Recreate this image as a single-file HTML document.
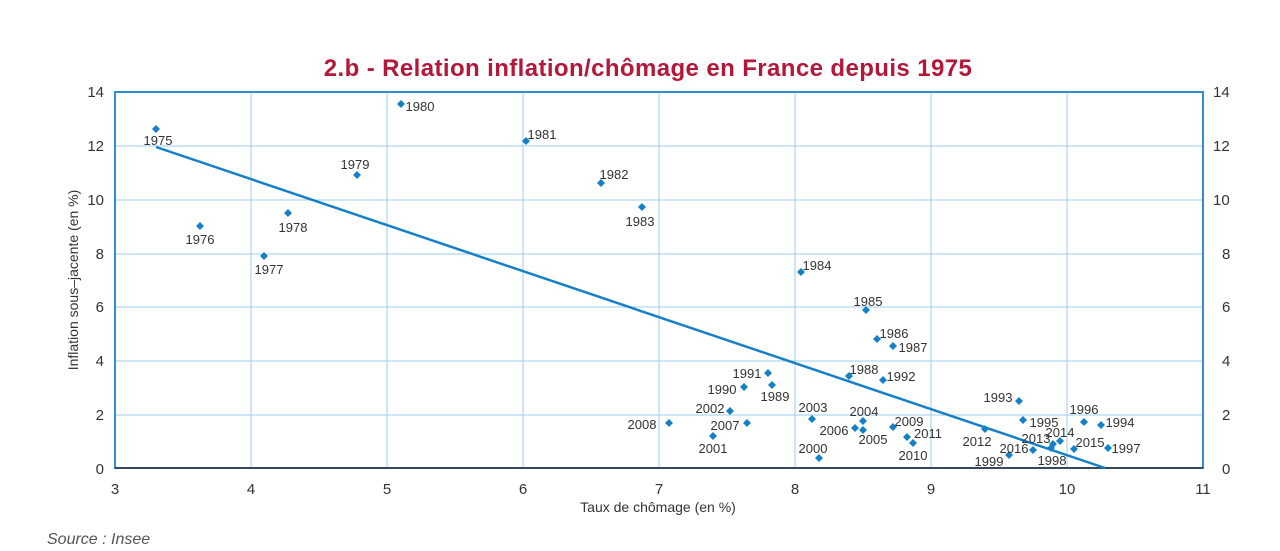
<!DOCTYPE html>
<html><head><meta charset="utf-8"><style>
html,body{margin:0;padding:0;background:#fff;}
svg{display:block;font-family:"Liberation Sans",sans-serif;}
</style></head><body>
<svg width="1280" height="551" viewBox="0 0 1280 551" xmlns="http://www.w3.org/2000/svg">
<text x="648" y="76" text-anchor="middle" font-size="24" letter-spacing="0.4" font-weight="bold" fill="#b3183a">2.b - Relation inflation/chômage en France depuis 1975</text>
<g stroke="#9fcdee" stroke-width="1">
<line x1="251" y1="92" x2="251" y2="468"/><line x1="387" y1="92" x2="387" y2="468"/>
<line x1="523" y1="92" x2="523" y2="468"/><line x1="659" y1="92" x2="659" y2="468"/>
<line x1="795" y1="92" x2="795" y2="468"/><line x1="931" y1="92" x2="931" y2="468"/>
<line x1="1067" y1="92" x2="1067" y2="468"/>
<line x1="115" y1="146" x2="1203" y2="146"/><line x1="115" y1="200" x2="1203" y2="200"/>
<line x1="115" y1="254" x2="1203" y2="254"/><line x1="115" y1="307" x2="1203" y2="307"/>
<line x1="115" y1="361" x2="1203" y2="361"/><line x1="115" y1="415" x2="1203" y2="415"/>
</g>
<rect x="115" y="92" width="1088" height="376" fill="none" stroke="#2d8fd0" stroke-width="2"/>
<line x1="115" y1="468" x2="1203" y2="468" stroke="#34495e" stroke-width="2"/>
<line x1="156" y1="147" x2="1105" y2="468" stroke="#1580c8" stroke-width="2.5"/>
<g font-size="15" fill="#333">
<g text-anchor="end">
<text x="104" y="97">14</text><text x="104" y="151">12</text><text x="104" y="205">10</text>
<text x="104" y="259">8</text><text x="104" y="312">6</text><text x="104" y="366">4</text>
<text x="104" y="420">2</text><text x="104" y="474">0</text></g>
<g text-anchor="start">
<text x="1213" y="97">14</text><text x="1213" y="151">12</text><text x="1213" y="205">10</text>
<text x="1222" y="259">8</text><text x="1222" y="312">6</text><text x="1222" y="366">4</text>
<text x="1222" y="420">2</text><text x="1222" y="474">0</text></g>
<g text-anchor="middle">
<text x="115" y="494">3</text><text x="251" y="494">4</text><text x="387" y="494">5</text>
<text x="523" y="494">6</text><text x="659" y="494">7</text><text x="795" y="494">8</text>
<text x="931" y="494">9</text><text x="1067" y="494">10</text><text x="1203" y="494">11</text></g>
<text x="658" y="512" text-anchor="middle" font-size="14">Taux de chômage (en %)</text>
<text transform="translate(78,280) rotate(-90)" text-anchor="middle" font-size="14">Inflation sous–jacente (en %)</text>
</g>
<text x="47" y="544" font-size="16" font-style="italic" fill="#555">Source : Insee</text>
<g fill="#1580c8">
<path d="M0,-4L4,0L0,4L-4,0Z" transform="translate(156,129)"/>
<path d="M0,-4L4,0L0,4L-4,0Z" transform="translate(200,226)"/>
<path d="M0,-4L4,0L0,4L-4,0Z" transform="translate(264,256)"/>
<path d="M0,-4L4,0L0,4L-4,0Z" transform="translate(288,213)"/>
<path d="M0,-4L4,0L0,4L-4,0Z" transform="translate(357,175)"/>
<path d="M0,-4L4,0L0,4L-4,0Z" transform="translate(401,104)"/>
<path d="M0,-4L4,0L0,4L-4,0Z" transform="translate(526,141)"/>
<path d="M0,-4L4,0L0,4L-4,0Z" transform="translate(601,183)"/>
<path d="M0,-4L4,0L0,4L-4,0Z" transform="translate(642,207)"/>
<path d="M0,-4L4,0L0,4L-4,0Z" transform="translate(801,272)"/>
<path d="M0,-4L4,0L0,4L-4,0Z" transform="translate(866,310)"/>
<path d="M0,-4L4,0L0,4L-4,0Z" transform="translate(877,339)"/>
<path d="M0,-4L4,0L0,4L-4,0Z" transform="translate(893,346)"/>
<path d="M0,-4L4,0L0,4L-4,0Z" transform="translate(849,376)"/>
<path d="M0,-4L4,0L0,4L-4,0Z" transform="translate(772,385)"/>
<path d="M0,-4L4,0L0,4L-4,0Z" transform="translate(744,387)"/>
<path d="M0,-4L4,0L0,4L-4,0Z" transform="translate(768,373)"/>
<path d="M0,-4L4,0L0,4L-4,0Z" transform="translate(883,380)"/>
<path d="M0,-4L4,0L0,4L-4,0Z" transform="translate(1019,401)"/>
<path d="M0,-4L4,0L0,4L-4,0Z" transform="translate(1101,425)"/>
<path d="M0,-4L4,0L0,4L-4,0Z" transform="translate(1023,420)"/>
<path d="M0,-4L4,0L0,4L-4,0Z" transform="translate(1084,422)"/>
<path d="M0,-4L4,0L0,4L-4,0Z" transform="translate(1108,448)"/>
<path d="M0,-4L4,0L0,4L-4,0Z" transform="translate(1051,448)"/>
<path d="M0,-4L4,0L0,4L-4,0Z" transform="translate(1009,455)"/>
<path d="M0,-4L4,0L0,4L-4,0Z" transform="translate(819,458)"/>
<path d="M0,-4L4,0L0,4L-4,0Z" transform="translate(713,436)"/>
<path d="M0,-4L4,0L0,4L-4,0Z" transform="translate(730,411)"/>
<path d="M0,-4L4,0L0,4L-4,0Z" transform="translate(812,419)"/>
<path d="M0,-4L4,0L0,4L-4,0Z" transform="translate(863,421)"/>
<path d="M0,-4L4,0L0,4L-4,0Z" transform="translate(863,430)"/>
<path d="M0,-4L4,0L0,4L-4,0Z" transform="translate(855,428)"/>
<path d="M0,-4L4,0L0,4L-4,0Z" transform="translate(747,423)"/>
<path d="M0,-4L4,0L0,4L-4,0Z" transform="translate(669,423)"/>
<path d="M0,-4L4,0L0,4L-4,0Z" transform="translate(893,427)"/>
<path d="M0,-4L4,0L0,4L-4,0Z" transform="translate(913,443)"/>
<path d="M0,-4L4,0L0,4L-4,0Z" transform="translate(907,437)"/>
<path d="M0,-4L4,0L0,4L-4,0Z" transform="translate(985,429)"/>
<path d="M0,-4L4,0L0,4L-4,0Z" transform="translate(1053,444)"/>
<path d="M0,-4L4,0L0,4L-4,0Z" transform="translate(1060,441)"/>
<path d="M0,-4L4,0L0,4L-4,0Z" transform="translate(1074,449)"/>
<path d="M0,-4L4,0L0,4L-4,0Z" transform="translate(1033,450)"/>
</g>
<g font-size="13" fill="#333" text-anchor="middle">
<text x="158" y="145">1975</text><text x="200" y="244">1976</text><text x="269" y="274">1977</text>
<text x="293" y="232">1978</text><text x="355" y="169">1979</text><text x="420" y="111">1980</text>
<text x="542" y="139">1981</text><text x="614" y="179">1982</text><text x="640" y="226">1983</text>
<text x="817" y="270">1984</text><text x="868" y="306">1985</text><text x="894" y="338">1986</text>
<text x="913" y="352">1987</text><text x="864" y="374">1988</text><text x="775" y="401">1989</text>
<text x="722" y="394">1990</text><text x="747" y="378">1991</text><text x="901" y="381">1992</text>
<text x="998" y="402">1993</text><text x="1120" y="427">1994</text><text x="1044" y="427">1995</text>
<text x="1084" y="414">1996</text><text x="1126" y="453">1997</text><text x="1052" y="465">1998</text>
<text x="989" y="466">1999</text><text x="813" y="453">2000</text><text x="713" y="453">2001</text>
<text x="710" y="413">2002</text><text x="813" y="412">2003</text><text x="864" y="416">2004</text>
<text x="873" y="444">2005</text><text x="834" y="435">2006</text><text x="725" y="430">2007</text>
<text x="642" y="429">2008</text><text x="909" y="426">2009</text><text x="913" y="460">2010</text>
<text x="928" y="438">2011</text><text x="977" y="446">2012</text><text x="1036" y="443">2013</text>
<text x="1060" y="437">2014</text><text x="1090" y="447">2015</text><text x="1014" y="453">2016</text>
</g>
</svg>
</body></html>
